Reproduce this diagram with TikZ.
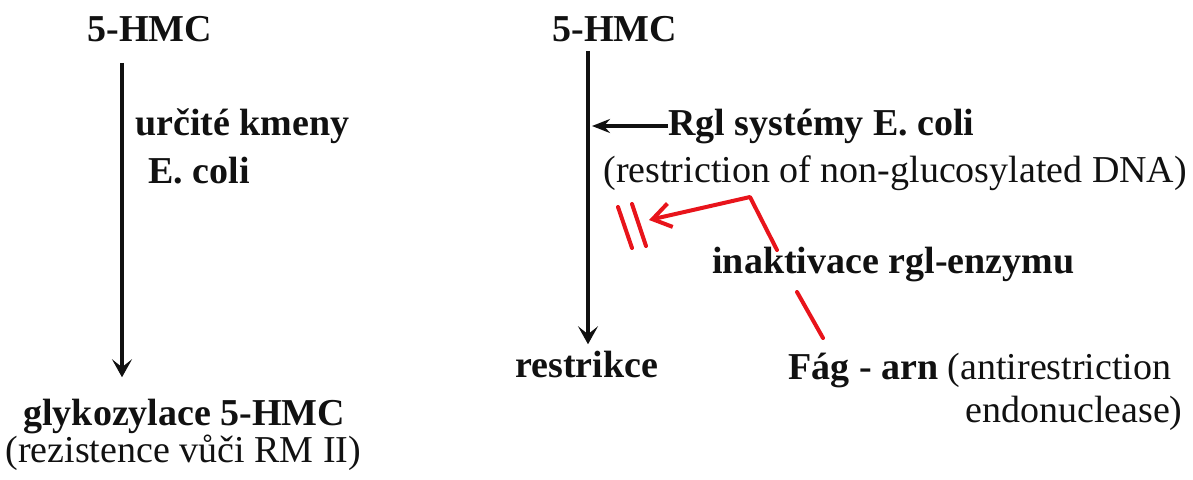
\documentclass[tikz,border=0pt]{standalone}
\usepackage{fontspec}
\setmainfont{Liberation Serif}
\usepackage{xcolor}
\usetikzlibrary{arrows.meta, positioning, calc}
\definecolor{inkblack}{HTML}{111111}
\definecolor{penred}{HTML}{E8141B}

\begin{document}
\begin{tikzpicture}[x=0.5pt, y=-0.5pt,
    lbl/.style={anchor=base west, inner sep=0pt, font=\fontsize{19}{23}\selectfont\bfseries, text=inkblack},
    note/.style={anchor=base west, inner sep=0pt, font=\fontsize{19}{23}\selectfont, text=inkblack},
    arrow/.style={-{Stealth[length=9pt, width=10pt, inset=4pt]}, line width=1.8pt, color=inkblack},
    harrow/.style={-{Stealth[length=9pt, width=7pt, inset=3pt]}, line width=1.8pt, color=inkblack},
    redline/.style={line width=2pt, color=penred, line cap=round},
    redarrow/.style={-{Straight Barb[length=9pt, width=12pt]}, line width=2pt, color=penred, line cap=round, line join=round}
]
\useasboundingbox (0,0) rectangle (1193,479);

% left branch
\node[lbl] (hmcL) at (87,41) {5-HMC};
\node[lbl] (kmeny) at (135,135) {určité kmeny};
\node[lbl] (ecoliL) at (148,183) {E. coli};
\node[lbl] (glyk) at (23,425) {glykozylace 5-HMC};
\node[note] (rezist) at (5,462) {(rezistence vůči RM II)};
\coordinate (axL) at (122,0);
\draw[arrow, shorten <=10.5pt, shorten >=10.5pt] (hmcL.south -| axL) -- (glyk.north -| axL);

% right branch
\node[lbl] (hmcR) at (552,41) {5-HMC};
\node[lbl] (rgl) at (668,135) {Rgl systémy E. coli};
\node[note] (nonglc) at (603,182) {(restriction of non-glucosylated DNA)};
\node[lbl] (inakt) at (712,273) {inaktivace rgl-enzymu};
\node[lbl] (restr) at (515,377) {restrikce};
\node[note] (fag) at (788,379) {\textbf{Fág - arn} (antirestriction};
\node[note, anchor=base east] (endo) at (1183,422) {endonuclease)};
\coordinate (axR) at (588,0);
\draw[arrow, shorten <=4.5pt, shorten >=3pt] (hmcR.south -| axR) -- (restr.north -| axR);
\draw[harrow, shorten >=2pt] (rgl.west) -- (rgl.west -| axR);

% red marks
\coordinate (kink) at (750,197);
\coordinate (block) at (649,220);
\coordinate (inTop) at (777,250);
\coordinate (inBot) at (797,292);
\coordinate (fagTop) at (823,338);
\draw[redline] (618,207) -- (632,248);
\draw[redline] (632,204) -- (646,246);
\draw[redarrow] (inTop) -- (kink) -- (block);
\draw[redline] (inBot) -- (fagTop);

\end{tikzpicture}
\end{document}
